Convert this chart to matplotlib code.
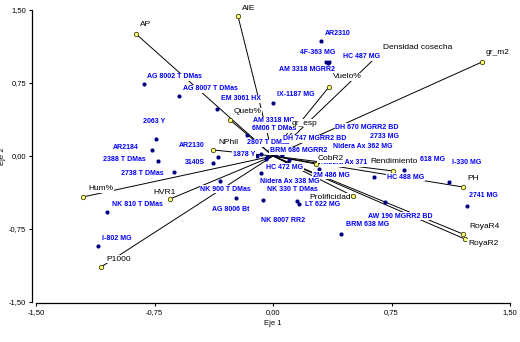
import numpy as np
import matplotlib.pyplot as plt
from matplotlib.ticker import FuncFormatter

plt.rcParams['font.family'] = ['Liberation Sans', 'DejaVu Sans']

# variable scores (biplot vectors)
var_names = ['AP', 'AIE', 'gr_m2', 'Vuelo%', 'Densidad cosecha', 'Queb%', 'gr_esp',
             'NPhil', 'Hum%', 'HVR1', 'P1000', 'CobR2', 'Rendimiento', 'PH',
             'RoyaR4', 'RoyaR2', 'Prolificidad']
var_x = [-0.867, -0.222, 1.323, 0.354, 0.652, -0.272, 0.108,
         -0.380, -1.203, -0.652, -1.089, 0.272, 0.759, 1.203,
         1.203, 1.215, 0.506]
var_y = [1.254, 1.439, 0.966, 0.709, 1.015, 0.370, 0.277,
         0.062, -0.421, -0.442, -1.141, -0.082, -0.154, -0.319,
         -0.802, -0.853, -0.411]

# genotype scores
gen_names = ['AR2310', '4F-363 MG', 'HC 487 MG', 'AM 3318 MGRR2', 'IX-1187 MG',
             'AG 8002 T DMas', 'AG 8007 T DMas', 'EM 3061 HX', 'AM 3318 MG',
             '6M06 T DMas', '2807 T DMas', '1878 Y', '2063 Y', 'AR2184', 'AR2130',
             '2388 T DMas', '3140S', '2738 T DMas', 'DH 670 MGRR2 BD',
             'DH 747 MGRR2 BD', '2733 MG', 'Nidera Ax 362 MG', 'BRM 686 MGRR2',
             'HC 472 MG', '2M 486 MG', 'Nidera Ax 371 MG', '618 MG', 'I-330 MG',
             'HC 488 MG', '2741 MG', 'Nidera Ax 338 MG', 'NK 330 T DMas',
             'NK 900 T DMas', 'AG 8006 Bt', 'LT 622 MG', 'NK 8007 RR2',
             'AW 190 MGRR2 BD', 'BRM 638 MG', 'NK 810 T DMas', 'I-802 MG']
gen_x = [0.304, 0.335, 0.354, 0.348, 0.0,
         -0.816, -0.595, -0.354, -0.019,
         -0.165, -0.076, -0.101, -0.741, -0.766, -0.348,
         -0.728, -0.380, -0.627, 0.032,
         0.019, 0.044, 0.057, -0.038,
         -0.044, 0.291, 0.101, 0.829, 1.114,
         0.639, 1.228, -0.076, -0.063,
         -0.335, -0.234, 0.152, 0.165,
         0.709, 0.430, -1.051, -1.108]
gen_y = [1.182, 0.966, 0.966, 0.956, 0.545,
         0.740, 0.617, 0.483, 0.062,
         0.216, 0.021, 0.0, 0.175, 0.062, -0.010,
         -0.051, -0.072, -0.164, 0.041,
         0.021, 0.031, 0.010, -0.010,
         -0.031, -0.134, -0.041, -0.144, -0.267,
         -0.216, -0.514, -0.175, -0.452,
         -0.257, -0.432, -0.462, -0.493,
         -0.473, -0.802, -0.576, -0.925]

# label offsets in pixels (right, up) from each point
var_off = [(4, 9), (4, 7), (4, 9), (4, 10), (7, 10), (4, 8), (2, 6),
           (5, 7), (5, 8), (-17, 7), (5, 8), (2, 5), (-23, 9), (4, 9),
           (6, 8), (3, -4), (-44, -1)]
gen_off = [(4, 7), (-26, 9), (14, 5), (-49, -7), (4, 8),
           (3, 7), (4, 7), (4, 10), (-17, 29),
           (5, 6), (-14, 11), (-24, 2), (-13, 17), (-39, 2), (-39, 11),
           (-55, 1), (-28, 1), (-53, -2), (57, 25),
           (7, 15), (90, 16), (51, 9), (3, 6),
           (0, -8), (-6, -6), (32, -3), (16, 11), (3, 19),
           (13, 0), (2, 11), (-1, -8), (4, 10),
           (-20, -8), (-24, -11), (8, -4), (-38, -17),
           (-17, -14), (5, 10), (5, 8), (4, 8)]

fig = plt.figure(figsize=(5.2, 3.42), dpi=100)
ax = fig.add_axes([36 / 520, 40 / 342, 474 / 520, 292 / 342])

# vectors from the origin
for vx, vy in zip(var_x, var_y):
    ax.plot([0, vx], [0, vy], color='black', lw=0.7, zorder=2)

ax.scatter(gen_x, gen_y, s=9, color='#000080', zorder=3, linewidths=0)
ax.scatter(var_x, var_y, s=10, facecolor='#ffff80', edgecolor='#404000',
           linewidths=0.6, zorder=3)

box = dict(facecolor='white', edgecolor='none', pad=0.4)
for name, gx, gy, off in zip(gen_names, gen_x, gen_y, gen_off):
    ax.annotate(name, (gx, gy), xytext=off, textcoords='offset pixels',
                ha='left', va='center', fontsize=5, fontweight='bold',
                color='#0000ff', bbox=box, zorder=4)

for name, vx, vy, off in zip(var_names, var_x, var_y, var_off):
    ax.annotate(name, (vx, vy), xytext=off, textcoords='offset pixels',
                ha='left', va='center', fontsize=6, color='black',
                bbox=box, zorder=5)

ticks = [-1.5, -0.75, 0, 0.75, 1.5]
ax.set_xlim(-1.5, 1.5)
ax.set_ylim(-1.5, 1.5)
ax.set_xticks(ticks)
ax.set_yticks(ticks)
fmt = FuncFormatter(lambda v, p: f'{v:.2f}'.replace('.', ','))
ax.xaxis.set_major_formatter(fmt)
ax.yaxis.set_major_formatter(fmt)
ax.tick_params(labelsize=5.5, length=2.5, width=0.8, pad=1.5)

for s in ['top', 'right']:
    ax.spines[s].set_visible(False)
ax.spines['left'].set_position(('outward', 3))
ax.spines['bottom'].set_position(('outward', 1))
ax.spines['left'].set_linewidth(0.9)
ax.spines['bottom'].set_linewidth(0.9)

ax.set_xlabel('Eje 1', fontsize=5.5, labelpad=3)
ax.set_ylabel('Eje 2', fontsize=5.5, labelpad=2)

fig.savefig('out.png', dpi=100)
